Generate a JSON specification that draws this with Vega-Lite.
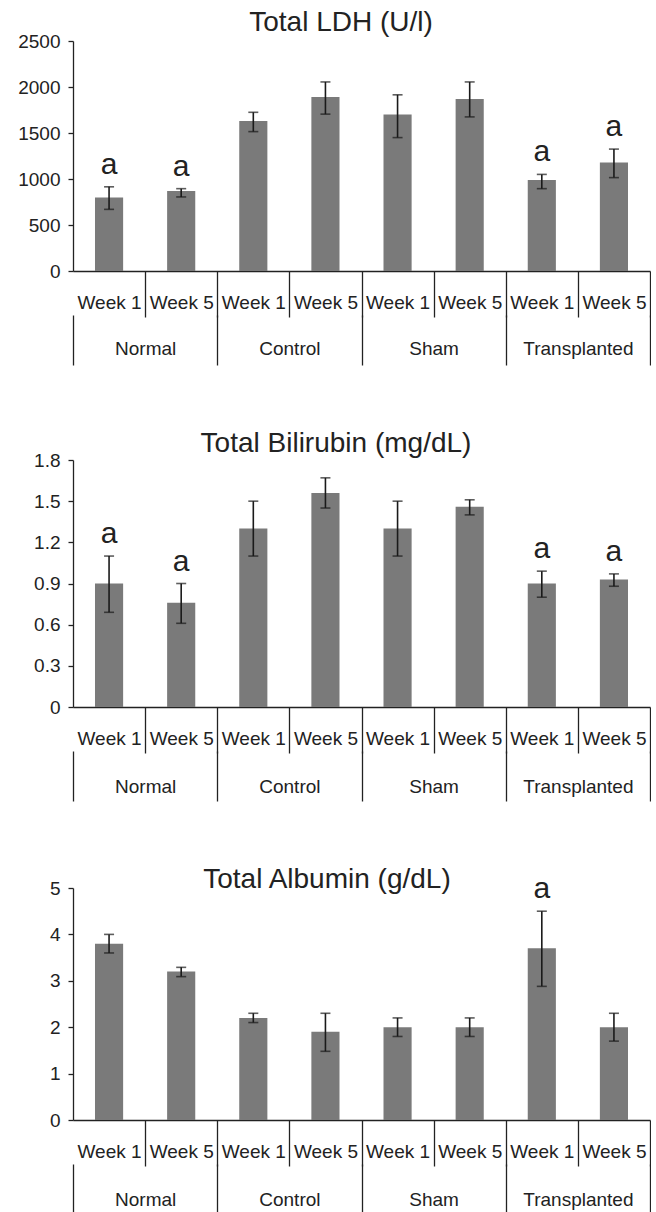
{
  "$schema": "https://vega.github.io/schema/vega-lite/v6.json",
  "background": "white",
  "padding": {"left": 17, "top": 8, "right": 0, "bottom": 0},
  "spacing": 64,
  "align": "each",
  "config": {
    "font": "Liberation Sans",
    "view": {"stroke": null},
    "axis": {"domainColor": "#222", "tickColor": "#222", "labelColor": "#222", "labelFont": "Liberation Sans", "labelFontSize": 19, "grid": false, "title": null, "domainWidth": 1.3, "tickWidth": 1.3},
    "title": {"fontSize": 28, "fontWeight": "normal", "color": "#222", "font": "Liberation Sans", "baseline": "alphabetic", "anchor": "middle", "frame": "group"}
  },
  "datasets": {
    "d": [
      {"test": "LDH", "group": "Normal", "week": "Week 1", "key": "Normal|Week 1", "value": 800, "lo": 670, "hi": 915, "label": "a"},
      {"test": "LDH", "group": "Normal", "week": "Week 5", "key": "Normal|Week 5", "value": 870, "lo": 805, "hi": 895, "label": "a"},
      {"test": "LDH", "group": "Control", "week": "Week 1", "key": "Control|Week 1", "value": 1630, "lo": 1515, "hi": 1725, "label": ""},
      {"test": "LDH", "group": "Control", "week": "Week 5", "key": "Control|Week 5", "value": 1890, "lo": 1705, "hi": 2055, "label": ""},
      {"test": "LDH", "group": "Sham", "week": "Week 1", "key": "Sham|Week 1", "value": 1700, "lo": 1450, "hi": 1915, "label": ""},
      {"test": "LDH", "group": "Sham", "week": "Week 5", "key": "Sham|Week 5", "value": 1870, "lo": 1675, "hi": 2055, "label": ""},
      {"test": "LDH", "group": "Transplanted", "week": "Week 1", "key": "Transplanted|Week 1", "value": 990, "lo": 895, "hi": 1050, "label": "a"},
      {"test": "LDH", "group": "Transplanted", "week": "Week 5", "key": "Transplanted|Week 5", "value": 1180, "lo": 1015, "hi": 1325, "label": "a"},
      {"test": "BIL", "group": "Normal", "week": "Week 1", "key": "Normal|Week 1", "value": 0.9, "lo": 0.69, "hi": 1.1, "label": "a"},
      {"test": "BIL", "group": "Normal", "week": "Week 5", "key": "Normal|Week 5", "value": 0.76, "lo": 0.61, "hi": 0.9, "label": "a"},
      {"test": "BIL", "group": "Control", "week": "Week 1", "key": "Control|Week 1", "value": 1.3, "lo": 1.1, "hi": 1.5, "label": ""},
      {"test": "BIL", "group": "Control", "week": "Week 5", "key": "Control|Week 5", "value": 1.56, "lo": 1.45, "hi": 1.67, "label": ""},
      {"test": "BIL", "group": "Sham", "week": "Week 1", "key": "Sham|Week 1", "value": 1.3, "lo": 1.1, "hi": 1.5, "label": ""},
      {"test": "BIL", "group": "Sham", "week": "Week 5", "key": "Sham|Week 5", "value": 1.46, "lo": 1.4, "hi": 1.51, "label": ""},
      {"test": "BIL", "group": "Transplanted", "week": "Week 1", "key": "Transplanted|Week 1", "value": 0.9, "lo": 0.8, "hi": 0.99, "label": "a"},
      {"test": "BIL", "group": "Transplanted", "week": "Week 5", "key": "Transplanted|Week 5", "value": 0.93, "lo": 0.88, "hi": 0.97, "label": "a"},
      {"test": "ALB", "group": "Normal", "week": "Week 1", "key": "Normal|Week 1", "value": 3.8, "lo": 3.6, "hi": 4.0, "label": ""},
      {"test": "ALB", "group": "Normal", "week": "Week 5", "key": "Normal|Week 5", "value": 3.2, "lo": 3.09, "hi": 3.29, "label": ""},
      {"test": "ALB", "group": "Control", "week": "Week 1", "key": "Control|Week 1", "value": 2.2, "lo": 2.1, "hi": 2.3, "label": ""},
      {"test": "ALB", "group": "Control", "week": "Week 5", "key": "Control|Week 5", "value": 1.9, "lo": 1.48, "hi": 2.3, "label": ""},
      {"test": "ALB", "group": "Sham", "week": "Week 1", "key": "Sham|Week 1", "value": 2.0, "lo": 1.8, "hi": 2.2, "label": ""},
      {"test": "ALB", "group": "Sham", "week": "Week 5", "key": "Sham|Week 5", "value": 2.0, "lo": 1.8, "hi": 2.2, "label": ""},
      {"test": "ALB", "group": "Transplanted", "week": "Week 1", "key": "Transplanted|Week 1", "value": 3.7, "lo": 2.88, "hi": 4.5, "label": "a"},
      {"test": "ALB", "group": "Transplanted", "week": "Week 5", "key": "Transplanted|Week 5", "value": 2.0, "lo": 1.7, "hi": 2.3, "label": ""}
    ]
  },
  "vconcat": [
    {
      "title": {"text": "Total LDH (U/l)", "offset": -4.6, "dx": -20.5},
      "width": 577, "height": 230,
      "data": {"name": "d"},
      "transform": [{"filter": "datum.test === 'LDH'"}],
      "layer": [
        {
          "encoding": {
            "x": {"field": "key", "type": "nominal", "sort": null, "scale": {"paddingInner": 0, "paddingOuter": 0},
              "axis": {"labelExpr": "split(datum.label, '|')[1]", "tickBand": "extent", "tickSize": 46, "labelPadding": -15, "labelBaseline": "middle", "labelAngle": 0, "labelOverlap": false, "tickOpacity": {"condition": {"test": "datum.extra", "value": 0}, "value": 1}}}
          },
          "layer": [
            {"mark": {"type": "bar", "color": "#7a7a7a", "width": {"band": 0.39}},
             "encoding": {"y": {"field": "value", "type": "quantitative", "scale": {"domain": [0, 2500], "nice": false}, "axis": {"values": [0, 500, 1000, 1500, 2000, 2500], "format": "d", "tickSize": 5, "labelPadding": 8}}}},
            {"mark": {"type": "rule", "color": "#1a1a1a", "strokeWidth": 1.6},
             "encoding": {"y": {"field": "lo", "type": "quantitative"}, "y2": {"field": "hi"}}},
            {"mark": {"type": "tick", "color": "#1a1a1a", "size": 10, "thickness": 1.6},
             "encoding": {"y": {"field": "lo", "type": "quantitative"}}},
            {"mark": {"type": "tick", "color": "#1a1a1a", "size": 10, "thickness": 1.6},
             "encoding": {"y": {"field": "hi", "type": "quantitative"}}},
            {"mark": {"type": "text", "fontSize": 30, "baseline": "alphabetic", "dy": -13, "color": "#222"},
             "encoding": {"y": {"field": "hi", "type": "quantitative"}, "text": {"field": "label"}}}
          ]
        },
        {
          "mark": {"type": "rule", "opacity": 0},
          "encoding": {
            "x": {"field": "group", "type": "nominal", "sort": null, "scale": {"paddingInner": 0, "paddingOuter": 0},
              "axis": {"orient": "bottom", "offset": 44, "tickBand": "extent", "tickSize": 50, "labelPadding": -17, "labelBaseline": "middle", "labelAngle": 0, "domain": false, "labelOverlap": false}}
          }
        }
      ],
      "resolve": {"scale": {"x": "independent"}, "axis": {"x": "independent"}}
    },
    {
      "title": {"text": "Total Bilirubin (mg/dL)", "offset": -17.3, "dx": -25.5},
      "width": 577, "height": 247,
      "data": {"name": "d"},
      "transform": [{"filter": "datum.test === 'BIL'"}],
      "layer": [
        {
          "encoding": {
            "x": {"field": "key", "type": "nominal", "sort": null, "scale": {"paddingInner": 0, "paddingOuter": 0},
              "axis": {"labelExpr": "split(datum.label, '|')[1]", "tickBand": "extent", "tickSize": 46, "labelPadding": -15, "labelBaseline": "middle", "labelAngle": 0, "labelOverlap": false, "tickOpacity": {"condition": {"test": "datum.extra", "value": 0}, "value": 1}}}
          },
          "layer": [
            {"mark": {"type": "bar", "color": "#7a7a7a", "width": {"band": 0.39}},
             "encoding": {"y": {"field": "value", "type": "quantitative", "scale": {"domain": [0, 1.8], "nice": false}, "axis": {"values": [0, 0.3, 0.6, 0.9, 1.2, 1.5, 1.8], "labelExpr": "datum.value == 0 ? '0' : format(datum.value, '.1f')", "tickSize": 5, "labelPadding": 8}}}},
            {"mark": {"type": "rule", "color": "#1a1a1a", "strokeWidth": 1.6},
             "encoding": {"y": {"field": "lo", "type": "quantitative"}, "y2": {"field": "hi"}}},
            {"mark": {"type": "tick", "color": "#1a1a1a", "size": 10, "thickness": 1.6},
             "encoding": {"y": {"field": "lo", "type": "quantitative"}}},
            {"mark": {"type": "tick", "color": "#1a1a1a", "size": 10, "thickness": 1.6},
             "encoding": {"y": {"field": "hi", "type": "quantitative"}}},
            {"mark": {"type": "text", "fontSize": 30, "baseline": "alphabetic", "dy": -13, "color": "#222"},
             "encoding": {"y": {"field": "hi", "type": "quantitative"}, "text": {"field": "label"}}}
          ]
        },
        {
          "mark": {"type": "rule", "opacity": 0},
          "encoding": {
            "x": {"field": "group", "type": "nominal", "sort": null, "scale": {"paddingInner": 0, "paddingOuter": 0},
              "axis": {"orient": "bottom", "offset": 44, "tickBand": "extent", "tickSize": 50, "labelPadding": -15, "labelBaseline": "middle", "labelAngle": 0, "domain": false, "labelOverlap": false}}
          }
        }
      ],
      "resolve": {"scale": {"x": "independent"}, "axis": {"x": "independent"}}
    },
    {
      "title": {"text": "Total Albumin (g/dL)", "offset": -20.1, "dx": -34.5},
      "width": 577, "height": 232,
      "data": {"name": "d"},
      "transform": [{"filter": "datum.test === 'ALB'"}],
      "layer": [
        {
          "encoding": {
            "x": {"field": "key", "type": "nominal", "sort": null, "scale": {"paddingInner": 0, "paddingOuter": 0},
              "axis": {"labelExpr": "split(datum.label, '|')[1]", "tickBand": "extent", "tickSize": 46, "labelPadding": -15, "labelBaseline": "middle", "labelAngle": 0, "labelOverlap": false, "tickOpacity": {"condition": {"test": "datum.extra", "value": 0}, "value": 1}}}
          },
          "layer": [
            {"mark": {"type": "bar", "color": "#7a7a7a", "width": {"band": 0.39}},
             "encoding": {"y": {"field": "value", "type": "quantitative", "scale": {"domain": [0, 5], "nice": false}, "axis": {"values": [0, 1, 2, 3, 4, 5], "tickSize": 5, "labelPadding": 8}}}},
            {"mark": {"type": "rule", "color": "#1a1a1a", "strokeWidth": 1.6},
             "encoding": {"y": {"field": "lo", "type": "quantitative"}, "y2": {"field": "hi"}}},
            {"mark": {"type": "tick", "color": "#1a1a1a", "size": 10, "thickness": 1.6},
             "encoding": {"y": {"field": "lo", "type": "quantitative"}}},
            {"mark": {"type": "tick", "color": "#1a1a1a", "size": 10, "thickness": 1.6},
             "encoding": {"y": {"field": "hi", "type": "quantitative"}}},
            {"mark": {"type": "text", "fontSize": 30, "baseline": "alphabetic", "dy": -13, "color": "#222"},
             "encoding": {"y": {"field": "hi", "type": "quantitative"}, "text": {"field": "label"}}}
          ]
        },
        {
          "mark": {"type": "rule", "opacity": 0},
          "encoding": {
            "x": {"field": "group", "type": "nominal", "sort": null, "scale": {"paddingInner": 0, "paddingOuter": 0},
              "axis": {"orient": "bottom", "offset": 44, "tickBand": "extent", "tickSize": 50, "labelPadding": -15, "labelBaseline": "middle", "labelAngle": 0, "domain": false, "labelOverlap": false}}
          }
        }
      ],
      "resolve": {"scale": {"x": "independent"}, "axis": {"x": "independent"}}
    }
  ]
}
